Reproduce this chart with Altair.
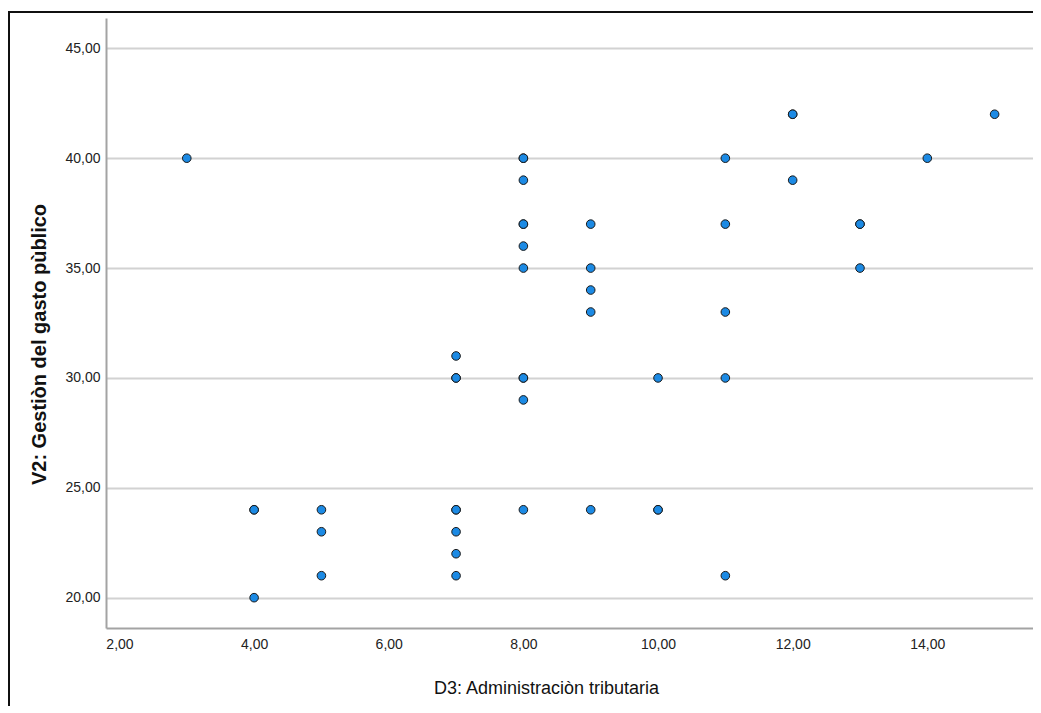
import altair as alt
import pandas as pd

# D3: Administración tributaria (x) and V2: Gestión del gasto público (y)
x_vals = [3, 4, 4, 4, 5, 5, 5,
          7, 7, 7, 7, 7, 7, 7, 7,
          8, 8, 8, 8, 8, 8, 8, 8, 8, 8, 8,
          9, 9, 9, 9, 9,
          10, 10, 10,
          11, 11, 11, 11, 11,
          12, 12, 12,
          13, 13, 13,
          14, 15]
y_vals = [40, 24, 24, 20, 24, 23, 21,
          31, 30, 24, 24, 23, 22, 21, 30,
          40, 40, 39, 37, 37, 36, 35, 30, 30, 29, 24,
          37, 35, 34, 33, 24,
          30, 24, 24,
          40, 37, 33, 30, 21,
          42, 42, 39,
          37, 37, 35,
          40, 42]

x_ticks = [2, 4, 6, 8, 10, 12, 14]
y_ticks = [20, 25, 30, 35, 40, 45]

df = pd.DataFrame({"x": x_vals, "y": y_vals})

W, H = 927, 610
label_expr = "replace(format(datum.value, '.2f'), '.', ',')"

points = alt.Chart(df).mark_point(
    shape="circle", filled=True, size=74, fill="#1c8ae4",
    stroke="#1a1a1a", strokeWidth=1, opacity=1
).encode(
    x=alt.X("x:Q",
            scale=alt.Scale(domain=[1.8, 15.57], nice=False, zero=False),
            axis=alt.Axis(values=x_ticks, labelExpr=label_expr, grid=False,
                          ticks=False, domainColor="#a3a3a3", domainWidth=2,
                          labelFont="Liberation Sans",
                          labelFontSize=14, labelColor="#222222",
                          labelPadding=9, labelBaseline="top",
                          title="D3: Administraciòn tributaria",
                          titleFont="Liberation Sans",
                          titleFontSize=18, titleFontWeight="normal",
                          titleColor="#111111", titleX=440, titleY=65,
                          titleAnchor="middle", titleAlign="center",
                          titleBaseline="alphabetic")),
    y=alt.Y("y:Q",
            scale=alt.Scale(domain=[18.62, 46.38], nice=False, zero=False),
            axis=alt.Axis(values=y_ticks, labelExpr=label_expr, grid=True,
                          gridColor="#d2d2d2", gridWidth=2,
                          ticks=False, domainColor="#a3a3a3", domainWidth=2,
                          labelFont="Liberation Sans",
                          labelFontSize=14, labelColor="#222222",
                          labelPadding=6,
                          title="V2: Gestiòn del gasto pùblico",
                          titleFont="Liberation Sans", titleFontSize=20,
                          titleFontWeight="bold", titleColor="#111111",
                          titleAngle=-90, titleX=-67, titleY=326,
                          titleAlign="center", titleBaseline="middle")),
)

frame_top = alt.Chart(df).mark_rule(color="#111111", strokeWidth=1.5).encode(
    x=alt.value(-98), x2=alt.value(W), y=alt.value(-6)
)
frame_left = alt.Chart(df).mark_rule(color="#111111", strokeWidth=1.5).encode(
    x=alt.value(-97.3), y=alt.value(-6), y2=alt.value(H + 120)
)

chart = alt.layer(frame_top, frame_left, points).properties(
    width=W, height=H,
    autosize=alt.AutoSizeParams(type="none"),
    padding={"left": 98, "top": 10, "right": 0, "bottom": 78},
    background="white",
).configure_view(stroke=None)

chart.save("out.html", embed_options={"renderer": "svg", "actions": False})
